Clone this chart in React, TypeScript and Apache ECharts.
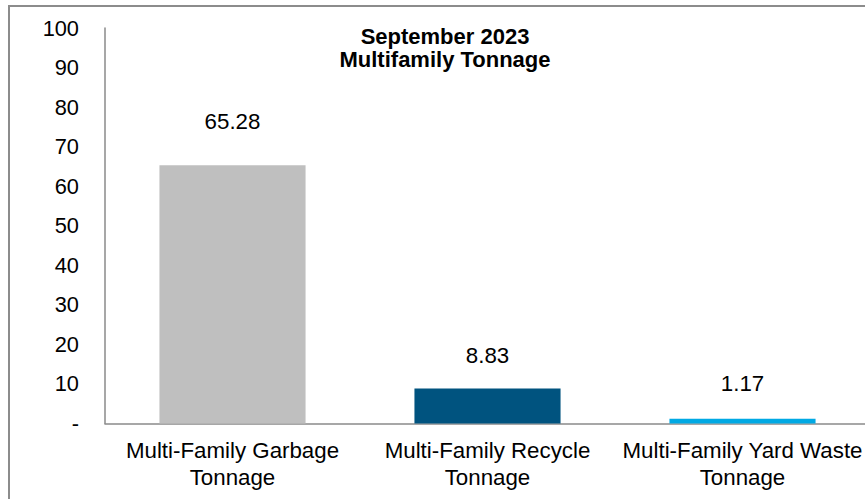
import React, { useEffect, useRef } from "react";
import * as echarts from "echarts";

const categories = [
  "Multi-Family Garbage\nTonnage",
  "Multi-Family Recycle\nTonnage",
  "Multi-Family Yard Waste\nTonnage",
];
const values = [65.28, 8.83, 1.17];
const barColors = ["#BFBFBF", "#00537F", "#00A9E4"];
const labelDistances = [33, 22, 24];
const titleText = "September 2023\nMultifamily Tonnage";
const yMin = 0;
const yMax = 100;
const yStep = 10;

const FONT = "'Liberation Sans', Arial, sans-serif";
const FS = 22.3;

export default function App() {
  const ref = useRef<HTMLDivElement>(null);
  useEffect(() => {
    if (!ref.current) return;
    const chart = echarts.init(ref.current, undefined, { renderer: "svg" });
    chart.setOption({
      animation: false,
      backgroundColor: "#ffffff",
      title: {
        text: titleText,
        left: 440,
        top: 20,
        textAlign: "center",
        textStyle: {
          fontFamily: FONT,
          fontSize: 22,
          fontWeight: "bold",
          lineHeight: 23,
          color: "#000",
        },
      },
      graphic: [
        {
          type: "rect",
          shape: { x: 9, y: 6, width: 900, height: 600 },
          style: { fill: "none", stroke: "#8c8c8c", lineWidth: 2 },
          silent: true,
        },
      ],
      grid: { left: 105, width: 765, top: 28, bottom: 75.5, containLabel: false },
      xAxis: {
        type: "category",
        data: categories,
        axisLine: { show: true, lineStyle: { color: "#8a8a8a", width: 1.5 } },
        axisTick: { show: false },
        axisLabel: {
          interval: 0,
          margin: 13,
          color: "#000",
          fontFamily: FONT,
          fontSize: FS,
          lineHeight: 27,
        },
      },
      yAxis: {
        type: "value",
        min: yMin,
        max: yMax,
        interval: yStep,
        axisLine: { show: true, lineStyle: { color: "#8a8a8a", width: 1.5 } },
        axisTick: { show: false },
        splitLine: { show: false },
        axisLabel: {
          margin: 26,
          color: "#000",
          fontFamily: FONT,
          fontSize: 21.8,
          formatter: (v: number) => (v === 0 ? "-" : String(v)),
        },
      },
      series: [
        {
          type: "bar",
          barWidth: "57.3%",
          data: values.map((v, i) => ({
            value: v,
            itemStyle: { color: barColors[i] },
            label: {
              show: true,
              position: "top",
              distance: labelDistances[i],
              formatter: (p: any) => Number(p.value).toFixed(2),
              color: "#000",
              fontFamily: FONT,
              fontSize: FS,
            },
          })),
        },
      ],
    });
    return () => chart.dispose();
  }, []);
  return (
    <div style={{ position: "fixed", left: 0, top: 0, width: 865, height: 499, overflow: "hidden" }}>
      <div ref={ref} style={{ width: 885, height: 499 }} />
    </div>
  );
}
